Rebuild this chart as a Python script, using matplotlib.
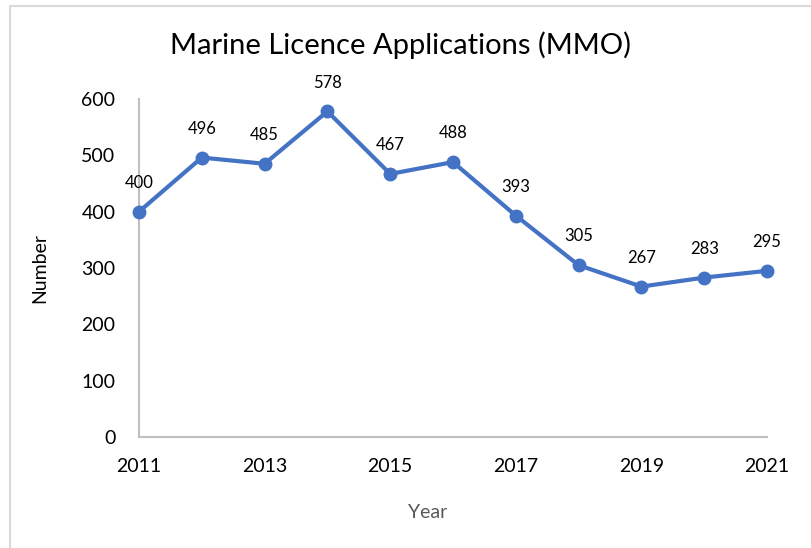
import matplotlib.pyplot as plt
from matplotlib.patches import Rectangle

years = [2011, 2012, 2013, 2014, 2015, 2016, 2017, 2018, 2019, 2020, 2021]
applications = [400, 496, 485, 578, 467, 488, 393, 305, 267, 283, 295]
xticks = [2011, 2013, 2015, 2017, 2019, 2021]
yticks = [0, 100, 200, 300, 400, 500, 600]

plt.rcParams['font.family'] = ['Lato', 'DejaVu Sans']

fig = plt.figure(figsize=(8.11, 5.48), dpi=100)
ax = fig.add_axes([139/811, 1 - 437/548, (767 - 139)/811, (437 - 99)/548])

# light frame round the chart (left and top edges visible)
fig.patches.append(Rectangle((10/811, -0.1), 1.2, (542/548) + 0.1, transform=fig.transFigure,
                             fill=False, edgecolor='#D9D9D9', linewidth=1.5))

ax.plot(years, applications, color='#4472C4', linewidth=3, marker='o',
        markersize=9, clip_on=False, zorder=3)
for x, y in zip(years, applications):
    ax.annotate(str(y), (x, y), xytext=(0, 15), textcoords='offset points',
                ha='center', va='bottom', fontsize=12, color='#000000')

ax.set_xlim(2011, 2021)
ax.set_ylim(0, 600)
ax.set_xticks(xticks)
ax.set_yticks(yticks)
ax.tick_params(axis='both', length=0, labelsize=14)
ax.tick_params(axis='y', pad=17)
ax.tick_params(axis='x', pad=15)

for s in ['top', 'right']:
    ax.spines[s].set_visible(False)
for s in ['left', 'bottom']:
    ax.spines[s].set_color('#BFBFBF')
    ax.spines[s].set_linewidth(1.5)

fig.text(400/811, 1 - 45/548, 'Marine Licence Applications (MMO)', ha='center', va='center', fontsize=21)
fig.text(428/811, 1 - 512/548, 'Year', ha='center', va='center', fontsize=14, color='#595959')
fig.text(40/811, 1 - 268/548, 'Number', ha='center', va='center', fontsize=14, rotation=90)

fig.savefig('out.png', dpi=100)
